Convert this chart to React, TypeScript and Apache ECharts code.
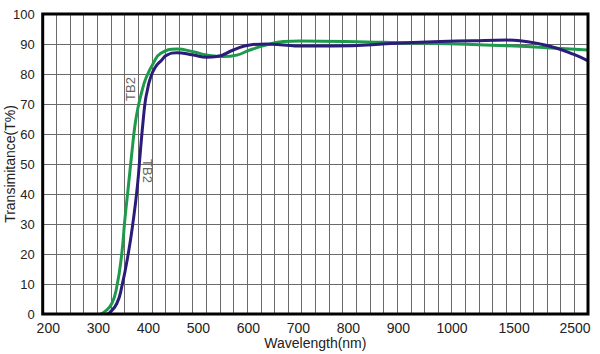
import React, { useEffect, useRef } from "react";
import * as echarts from "echarts";

// ---- data ----
const WAVELENGTH_TICKS = [200, 300, 400, 500, 600, 700, 800, 900, 1000, 1500, 2500];
const Y_MIN = 0;
const Y_MAX = 100;
const Y_STEP = 10;

// axis scale is piecewise (as in the original datasheet)
const SCALE_NM = [200, 900, 1000, 1500, 2500, 2713];
const SCALE_U = [0.41, 26.09, 30.03, 34.58, 39.05, 40];

const GREEN_NM = [305, 313, 327, 337, 347, 353, 360, 367, 373, 379, 386, 395, 410, 425, 457, 490, 517, 550, 577, 603, 637, 670, 703, 837, 900, 978, 1441, 2200, 2713];
const GREEN_T = [0, 0.8, 3.5, 9.1, 20.2, 31.3, 42.4, 53.6, 62.5, 68.5, 73.5, 78.5, 83.6, 86.9, 88.3, 87.4, 86.3, 85.8, 86.3, 88, 89.7, 90.8, 91, 90.7, 90.4, 90.2, 89.4, 88.6, 88];

const BLUE_NM = [317, 323, 337, 347, 360, 370, 378, 384, 390, 394, 398, 403, 413, 427, 437, 457, 490, 517, 537, 570, 603, 637, 670, 703, 769, 903, 978, 1169, 1441, 1598, 1926, 2200, 2472, 2713];
const BLUE_T = [0, 0.5, 3.5, 9.1, 20.2, 31.3, 42.4, 54, 65, 71, 74.5, 78, 82, 84.7, 86.3, 87.1, 86.3, 85.6, 85.8, 88, 89.7, 90, 89.7, 89.3, 89.3, 90.3, 90.8, 91.1, 91.3, 91.1, 90, 88.6, 86.6, 84.4];

const CURVE_LABEL = "TB2";

function toU(nm: number): number {
  for (let i = 0; i < SCALE_NM.length - 1; i++) {
    const a = SCALE_NM[i], b = SCALE_NM[i + 1];
    if (nm <= b || i === SCALE_NM.length - 2) {
      return SCALE_U[i] + ((nm - a) / (b - a)) * (SCALE_U[i + 1] - SCALE_U[i]);
    }
  }
  return 0;
}

const GRID = { left: 42.7, top: 14, right: 12, bottom: 40 };
const W = 600;
const H = 354;
const FONT = '"Liberation Sans", Arial, sans-serif';

export default function App() {
  const ref = useRef<HTMLDivElement>(null);
  useEffect(() => {
    if (!ref.current) return;
    const chart = echarts.init(ref.current, undefined, { renderer: "svg" });
    const tickU = WAVELENGTH_TICKS.map(toU);
    const labelFor = (v: number) => {
      let best = 0;
      for (let i = 0; i < tickU.length; i++) {
        if (Math.abs(tickU[i] - v) < Math.abs(tickU[best] - v)) best = i;
      }
      return String(WAVELENGTH_TICKS[best]);
    };
    const gw = W - GRID.left - GRID.right;
    const gh = H - GRID.top - GRID.bottom;
    chart.setOption({
      animation: false,
      backgroundColor: "#fff",
      grid: { ...GRID, containLabel: false, outerBoundsMode: "none" },
      xAxis: {
        type: "value",
        min: 0,
        max: 40,
        interval: 1,
        name: "Wavelength(nm)",
        nameLocation: "middle",
        nameGap: 22,
        nameMoveOverlap: false,
        nameTextStyle: { fontFamily: FONT, fontSize: 14, color: "#222", lineHeight: 14 },
        axisLine: { show: false },
        axisTick: { show: false },
        splitLine: { show: true, showMinLine: false, showMaxLine: false, lineStyle: { color: "#6a6a6a", width: 1 } },
        axisLabel: {
          customValues: tickU,
          formatter: (v: number) => labelFor(v),
          fontFamily: FONT,
          fontSize: 14,
          lineHeight: 14,
          color: "#222",
          margin: 7,
        },
      },
      yAxis: {
        type: "value",
        min: Y_MIN,
        max: Y_MAX,
        interval: Y_STEP,
        name: "Transimitance(T%)",
        nameLocation: "middle",
        nameGap: 33,
        nameMoveOverlap: false,
        nameTextStyle: { fontFamily: FONT, fontSize: 14, color: "#222", verticalAlign: "middle" },
        axisLine: { show: false },
        axisTick: { show: false },
        splitLine: { show: true, showMinLine: false, showMaxLine: false, lineStyle: { color: "#6a6a6a", width: 1 } },
        axisLabel: { fontFamily: FONT, fontSize: 13, color: "#222", margin: 8 },
      },
      series: [
        {
          type: "line",
          data: GREEN_NM.map((nm, i) => [toU(nm), GREEN_T[i]]),
          showSymbol: false,
          smooth: 0.5,
          lineStyle: { color: "#1f9a4c", width: 3 },
          z: 3,
        },
        {
          type: "line",
          data: BLUE_NM.map((nm, i) => [toU(nm), BLUE_T[i]]),
          showSymbol: false,
          smooth: 0.5,
          lineStyle: { color: "#2a1d7a", width: 3 },
          z: 4,
        },
      ],
      graphic: [
        {
          type: "rect",
          z: 100,
          shape: { x: GRID.left, y: GRID.top, width: gw, height: gh },
          style: { fill: "none", stroke: "#000", lineWidth: 3 },
        },
        {
          type: "text",
          z: 100,
          x: 130.8,
          y: 89,
          rotation: Math.PI / 2,
          style: { text: CURVE_LABEL, fontFamily: FONT, fontSize: 13, fill: "#666", align: "center", verticalAlign: "middle" },
        },
        {
          type: "text",
          z: 100,
          x: 147.5,
          y: 171,
          rotation: -Math.PI / 2,
          style: { text: CURVE_LABEL, fontFamily: FONT, fontSize: 13, fill: "#666", align: "center", verticalAlign: "middle" },
        },
      ],
    });
    return () => chart.dispose();
  }, []);
  return (
    <div
      ref={ref}
      style={{ position: "fixed", left: 0, top: 0, width: W, height: H, background: "#fff" }}
    />
  );
}
